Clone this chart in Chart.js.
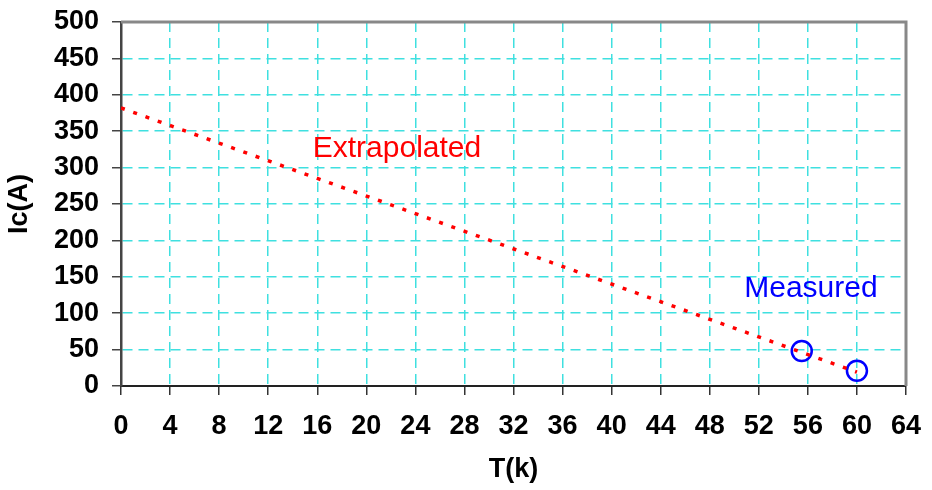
<!DOCTYPE html>
<html>
<head>
<meta charset="utf-8">
<script src="https://cdn.jsdelivr.net/npm/chart.js@4.4.1/dist/chart.umd.min.js"></script>
<style>
  html, body { margin: 0; padding: 0; background: #ffffff; }
  #wrap { width: 932px; height: 490px; position: relative; }
</style>
</head>
<body>
<div id="wrap"><canvas id="c"></canvas></div>
<script>
// ---- data ----
const extrapolatedT = [0, 60];
const extrapolatedIc = [382, 19];
const measuredT = [55.5, 60];
const measuredIc = [48, 21];
const xTicks = [0, 4, 8, 12, 16, 20, 24, 28, 32, 36, 40, 44, 48, 52, 56, 60, 64];
const yTicks = [0, 50, 100, 150, 200, 250, 300, 350, 400, 450, 500];
const annotations = [
  { text: 'Extrapolated', t: 22.5, ic: 326, color: '#ff0000' },
  { text: 'Measured', t: 56.25, ic: 133, color: '#0000ff' }
];

const FONT = '"Liberation Sans", Arial, Helvetica, sans-serif';
const GRID = '#3fe0e0';

const framePlugin = {
  id: 'frame',
  afterDraw(chart) {
    const { ctx, chartArea: a, scales } = chart;
    ctx.save();
    ctx.strokeStyle = '#888888';
    ctx.lineWidth = 3;
    ctx.beginPath();
    ctx.moveTo(a.left, a.top);
    ctx.lineTo(a.right, a.top);
    ctx.lineTo(a.right, a.bottom);
    ctx.stroke();
    ctx.font = '30px ' + FONT;
    ctx.textAlign = 'center';
    ctx.textBaseline = 'middle';
    annotations.forEach(an => {
      ctx.fillStyle = an.color;
      ctx.fillText(an.text, scales.x.getPixelForValue(an.t), scales.y.getPixelForValue(an.ic));
    });
    ctx.restore();
  }
};

new Chart(document.getElementById('c'), {
  type: 'scatter',
  data: {
    datasets: [
      {
        label: 'Extrapolated',
        data: extrapolatedT.map((t, i) => ({ x: t, y: extrapolatedIc[i] })),
        showLine: true,
        borderColor: '#ff0000',
        borderWidth: 3.5,
        borderDash: [4, 9],
        pointRadius: 0,
        fill: false
      },
      {
        label: 'Measured',
        data: measuredT.map((t, i) => ({ x: t, y: measuredIc[i] })),
        showLine: false,
        pointStyle: 'circle',
        pointRadius: 10,
        pointHoverRadius: 10,
        borderColor: '#0000ff',
        borderWidth: 2.5,
        backgroundColor: 'rgba(0,0,0,0)'
      }
    ]
  },
  options: {
    responsive: true,
    maintainAspectRatio: false,
    animation: false,
    layout: { padding: { left: 0, top: 22, right: 26, bottom: 0 } },
    plugins: {
      legend: { display: false },
      tooltip: { enabled: false }
    },
    scales: {
      x: {
        type: 'linear',
        min: 0,
        max: 64,
        afterBuildTicks: s => { s.ticks = xTicks.map(v => ({ value: v })); },
        afterFit: s => { s.height = 104; s.paddingLeft = 0; s.paddingRight = 0; },
        ticks: {
          color: '#000000',
          font: { family: FONT, size: 27, weight: 'bold' },
          padding: 15,
          maxRotation: 0,
          autoSkip: false
        },
        grid: {
          color: GRID,
          lineWidth: 1.5,
          tickColor: '#333333',
          tickLength: 9,
          tickWidth: 1.5
        },
        border: { color: '#222222', width: 2, dash: [10, 6] },
        title: {
          display: true,
          text: 'T(k)',
          color: '#000000',
          font: { family: FONT, size: 27, weight: 'bold' },
          padding: { top: 4, bottom: 4 }
        }
      },
      y: {
        type: 'linear',
        min: 0,
        max: 500,
        afterBuildTicks: s => { s.ticks = yTicks.map(v => ({ value: v })); },
        afterFit: s => { s.width = 121; s.paddingTop = 0; s.paddingBottom = 0; },
        ticks: {
          color: '#000000',
          font: { family: FONT, size: 27, weight: 'bold' },
          padding: 13
        },
        grid: {
          color: GRID,
          lineWidth: 1.5,
          tickColor: '#444444',
          tickLength: 9,
          tickWidth: 1.5
        },
        border: { color: '#444444', width: 2.5, dash: [10, 6] },
        title: {
          display: true,
          text: 'Ic(A)',
          color: '#000000',
          font: { family: FONT, size: 27, weight: 'bold' },
          padding: { top: 3, bottom: 4 }
        }
      }
    }
  },
  plugins: [framePlugin]
});
</script>
</body>
</html>
